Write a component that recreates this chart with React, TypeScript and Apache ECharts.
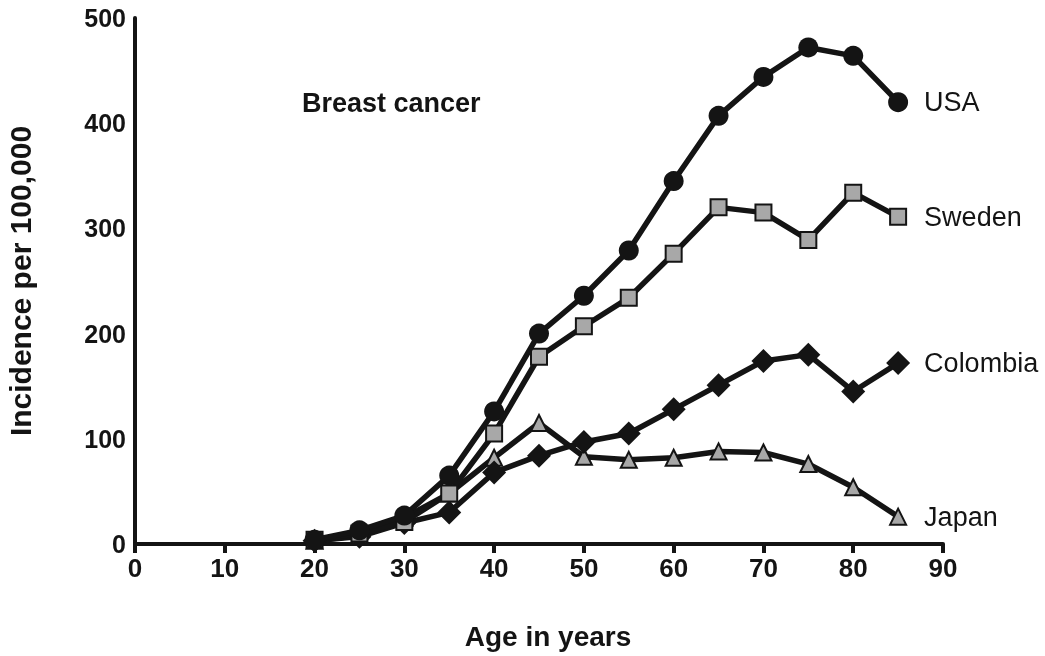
import React, { useEffect, useRef } from "react";
import * as echarts from "echarts";

const ages = [20, 25, 30, 35, 40, 45, 50, 55, 60, 65, 70, 75, 80, 85];
const usa = [4, 13, 27, 65, 126, 200, 236, 279, 345, 407, 444, 472, 464, 420];
const sweden = [4, 10, 21, 48, 105, 178, 207, 234, 276, 320, 315, 289, 334, 311];
const colombia = [3, 7, 20, 30, 68, 84, 97, 105, 128, 151, 174, 180, 145, 172];
const japan = [3, 8, 25, 48, 82, 115, 83, 80, 82, 88, 87, 76, 54, 26];
const xTicks = [0, 10, 20, 30, 40, 50, 60, 70, 80, 90];
const yTicks = [0, 100, 200, 300, 400, 500];

const FONT = "'Liberation Sans', Arial, Helvetica, sans-serif";
const INK = "#141414";

export default function App() {
  const ref = useRef<HTMLDivElement>(null);
  useEffect(() => {
    if (!ref.current) return;
    const chart = echarts.init(ref.current, null, { renderer: "svg" });
    const mk = (name: string, vals: number[], symbol: string, size: number, fill: string, z: number) => ({
      name,
      type: "line",
      data: ages.map((a, i) => [a, vals[i]]),
      symbol,
      symbolSize: size,
      z,
      lineStyle: { color: INK, width: 5.5 },
      itemStyle: { color: fill, borderColor: INK, borderWidth: fill === INK ? 0 : 2 },
      showAllSymbol: true,
      endLabel: {
        show: true,
        formatter: "{a}",
        distance: 26,
        fontSize: 27,
        color: INK,
        fontFamily: FONT,
      },
    });
    chart.setOption({
      animation: false,
      grid: { left: 135, right: 102, top: 18, bottom: 112, containLabel: false, outerBoundsMode: "none" },
      xAxis: {
        type: "value",
        min: 0,
        max: 90,
        interval: 10,
        name: "Age in years",
        nameLocation: "middle",
        nameGap: 78,
        nameTextStyle: { fontSize: 28, fontWeight: "bold", color: INK, fontFamily: FONT, padding: [0, 0, 0, 18] },
        axisLine: { show: true, lineStyle: { color: INK, width: 4 } },
        axisTick: { show: true, length: 9, lineStyle: { color: INK, width: 4 } },
        axisLabel: {
          fontSize: 26,
          fontWeight: "bold",
          color: INK,
          fontFamily: FONT,
          margin: 11,
          formatter: (v: number) => (xTicks.includes(v) ? String(v) : ""),
        },
        splitLine: { show: false },
      },
      yAxis: {
        type: "value",
        min: 0,
        max: 500,
        interval: 100,
        name: "Incidence per 100,000",
        nameLocation: "middle",
        nameGap: 100,
        nameTextStyle: { fontSize: 30, fontWeight: "bold", color: INK, fontFamily: FONT },
        axisLine: { show: true, lineStyle: { color: INK, width: 4 } },
        axisTick: { show: false },
        axisLabel: {
          fontSize: 25,
          fontWeight: "bold",
          color: INK,
          fontFamily: FONT,
          margin: 9,
          formatter: (v: number) => (yTicks.includes(v) ? String(v) : ""),
        },
        splitLine: { show: false },
      },
      graphic: [
        {
          type: "text",
          left: 302,
          top: 89,
          style: { text: "Breast cancer", fontSize: 27, fontWeight: "bold", fill: INK, fontFamily: FONT },
        },
      ],
      series: [
        mk("Japan", japan, "triangle", 16, "#a8a8a8", 2),
        mk("Colombia", colombia, "diamond", 24, INK, 3),
        mk("Sweden", sweden, "rect", 16, "#a8a8a8", 4),
        mk("USA", usa, "circle", 20, INK, 5),
      ],
    });
    return () => chart.dispose();
  }, []);
  return <div ref={ref} style={{ position: "fixed", left: 0, top: 0, width: 1045, height: 656 }} />;
}
